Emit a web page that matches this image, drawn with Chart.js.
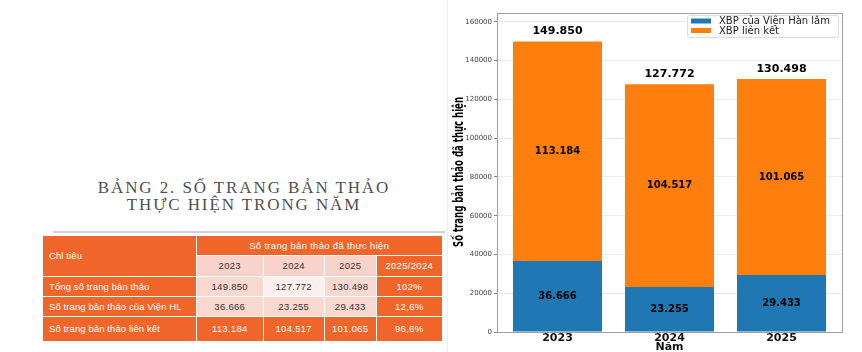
<!DOCTYPE html>
<html><head><meta charset="utf-8">
<script src="https://cdn.jsdelivr.net/npm/chart.js@4/dist/chart.umd.min.js"></script>
<style>
html,body{margin:0;padding:0;background:#fff;}
body{width:862px;height:352px;position:relative;overflow:hidden;font-family:"Liberation Sans",Arial,sans-serif;}
#title{position:absolute;left:44px;width:400px;top:179px;text-align:center;font-family:"Liberation Serif","DejaVu Serif",serif;font-size:17px;line-height:17px;color:#505050;letter-spacing:1.9px;}
#rule{position:absolute;left:53px;width:392px;top:231px;height:2px;background:#d0d0d0;}
#vline{position:absolute;left:447px;top:0;width:1px;height:352px;background:#eee;}
.c{position:absolute;box-sizing:border-box;display:flex;align-items:center;justify-content:center;font-size:9.5px;letter-spacing:0.3px;color:#333;}
.o{background:#f0662a;color:#fff;}
.l{justify-content:flex-start;padding-left:6px;letter-spacing:0.1px;}
#wrap{position:absolute;left:440px;top:0;width:422px;height:352px;}
canvas{display:block;}
</style></head><body>
<div id="vline"></div>
<div id="title">BẢNG 2. SỐ TRANG BẢN THẢO<br>THỰC HIỆN TRONG NĂM</div>
<div id="rule"></div>
<div id="table"></div>
<div id="wrap"><canvas id="c" width="422" height="352"></canvas></div>
<script>
const years = ['2023', '2024', '2025'];
const vienHL = [36666, 23255, 29433];
const lienKet = [113184, 104517, 101065];
const totals = [149850, 127772, 130498];
const ratios = ['102%', '12,6%', '96,6%'];
const rowNames = ['Tổng số trang bản thảo', 'Số trang bản thảo của Viện HL', 'Số trang bản thảo liên kết'];
const seriesNames = ['XBP của Viện Hàn lâm', 'XBP liên kết'];
const yTicks = [0, 20000, 40000, 60000, 80000, 100000, 120000, 140000, 160000];
const yTitle = 'Số trang bản thảo đã thực hiện';

const fmt = v => v.toLocaleString('de-DE');

// ---- table ----
const colX = [43, 197, 264, 325, 377, 443];
const rowY = [236, 256, 277, 297, 317, 342];
const tbl = document.getElementById('table');
function cell(x0, x1, y0, y1, text, cls, bg) {
  const d = document.createElement('div');
  d.className = 'c ' + (cls || '');
  d.style.left = x0 + 'px'; d.style.top = y0 + 'px';
  d.style.width = (x1 - x0 - 1.5) + 'px'; d.style.height = (y1 - y0 - 1.5) + 'px';
  if (bg) d.style.background = bg;
  d.textContent = text;
  tbl.appendChild(d);
}
cell(colX[0], colX[1], rowY[0], rowY[2], 'Chỉ tiêu', 'o l');
cell(colX[1], colX[5], rowY[0], rowY[1], 'Số trang bản thảo đã thực hiện', 'o');
years.forEach((y, i) => cell(colX[i + 1], colX[i + 2], rowY[1], rowY[2], y, '', '#f8d3cb'));
cell(colX[4], colX[5], rowY[1], rowY[2], '2025/2024', 'o');
const rows = [totals, vienHL, lienKet];
rows.forEach((r, ri) => {
  const y0 = rowY[ri + 2], y1 = rowY[ri + 3];
  const last = ri === 2;
  cell(colX[0], colX[1], y0, y1, rowNames[ri], 'o l');
  r.forEach((v, i) => {
    let bg = last ? null : '#f9d8d0';
    if (ri === 0 && i === 1) bg = '#fdf0ec';
    cell(colX[i + 1], colX[i + 2], y0, y1, fmt(v), last ? 'o' : '', bg);
  });
  cell(colX[4], colX[5], y0, y1, ratios[ri], 'o');
});

// ---- chart ----
const labelPlugin = {
  id: 'labels',
  afterDatasetsDraw(chart) {
    const ctx = chart.ctx;
    ctx.save();
    ctx.fillStyle = '#000';
    ctx.textAlign = 'center';
    ctx.textBaseline = 'middle';
    ctx.font = 'bold 10px "DejaVu Sans"';
    chart.data.datasets.forEach((ds, di) => {
      const meta = chart.getDatasetMeta(di);
      meta.data.forEach((el, i) => {
        ctx.fillText(fmt(ds.data[i].y), el.x, (el.y + el.base) / 2);
      });
    });
    ctx.font = 'bold 11px "DejaVu Sans"';
    const top = chart.getDatasetMeta(1);
    top.data.forEach((el, i) => {
      ctx.fillText(fmt(totals[i]), el.x, el.y - 10);
    });
    ctx.restore();
  },
  afterDraw(chart) {
    const ctx = chart.ctx, a = chart.chartArea;
    ctx.save();
    ctx.strokeStyle = '#a0a0a0';
    ctx.lineWidth = 1;
    ctx.strokeRect(Math.round(a.left) + 0.5, Math.round(a.top) + 0.5, Math.round(a.right - a.left), Math.round(a.bottom - a.top));
    // y-axis title (condensed to fit its length in the reference)
    ctx.save();
    ctx.translate(19, 172);
    ctx.rotate(-Math.PI / 2);
    ctx.font = 'bold 14.5px "DejaVu Sans Condensed", "DejaVu Sans"';
    const w = ctx.measureText(yTitle).width;
    if (w > 150) ctx.scale(150 / w, 1);
    ctx.fillStyle = '#000';
    ctx.textAlign = 'center';
    ctx.textBaseline = 'middle';
    ctx.fillText(yTitle, 0, 0);
    ctx.restore();
    // legend
    const lx = 687 - 440, ly = 15, lw = 151, lh = 22;
    ctx.fillStyle = 'rgba(255,255,255,0.85)';
    ctx.strokeStyle = '#dcdcdc';
    ctx.beginPath();
    ctx.roundRect(lx + 0.5, ly + 0.5, lw, lh, 2);
    ctx.fill(); ctx.stroke();
    const cols = chart.data.datasets.map(d => d.backgroundColor);
    ctx.font = '10px "DejaVu Sans"';
    ctx.textBaseline = 'middle';
    ctx.textAlign = 'left';
    seriesNames.forEach((n, i) => {
      const cy = ly + 6 + i * 9.5;
      ctx.fillStyle = cols[i];
      ctx.fillRect(lx + 4, cy - 2.5, 20, 5);
      ctx.fillStyle = '#222';
      ctx.fillText(n, lx + 32, cy + 0.5);
    });
    ctx.restore();
  }
};

new Chart(document.getElementById('c'), {
  type: 'bar',
  data: {
    datasets: [
      { label: seriesNames[0], data: vienHL.map((v, i) => ({ x: i, y: v })), backgroundColor: '#1f77b4', barPercentage: 1, categoryPercentage: 0.795 },
      { label: seriesNames[1], data: lienKet.map((v, i) => ({ x: i, y: v })), backgroundColor: '#ff7f0e', barPercentage: 1, categoryPercentage: 0.795 }
    ]
  },
  options: {
    responsive: false,
    animation: false,
    devicePixelRatio: 1,
    layout: { padding: { top: 13, right: 20, left: 0, bottom: 0 } },
    plugins: { legend: { display: false }, tooltip: { enabled: false } },
    scales: {
      x: {
        type: 'linear', stacked: true, min: -0.54, max: 2.54, offset: false,
        afterBuildTicks: s => { s.ticks = years.map((_, i) => ({ value: i })); },
        afterFit: s => { s.height = 20; },
        ticks: { callback: v => years[v], font: { family: 'DejaVu Sans', size: 11, weight: 'bold' }, color: '#111', padding: -2, autoSkip: false, maxRotation: 0 },
        grid: { display: false, offset: false, drawTicks: true, tickLength: 2 },
        border: { display: false },
        title: { display: true, text: 'Năm', font: { family: 'DejaVu Sans', size: 11, weight: 'bold', lineHeight: 0.8 }, color: '#111', padding: { top: 0, bottom: 0 } }
      },
      y: {
        stacked: true, min: 0, max: 164600,
        afterBuildTicks: s => { s.ticks = yTicks.map(v => ({ value: v })); },
        afterFit: s => { s.width = 57; },
        ticks: { font: { family: 'DejaVu Sans', size: 7 }, color: '#444', padding: 2, callback: v => String(v) },
        grid: { color: 'rgba(0,0,0,0.08)', tickColor: '#888', tickLength: 3 },
        border: { display: false },
        title: { display: false }
      }
    }
  },
  plugins: [labelPlugin]
});
</script>
</body></html>
